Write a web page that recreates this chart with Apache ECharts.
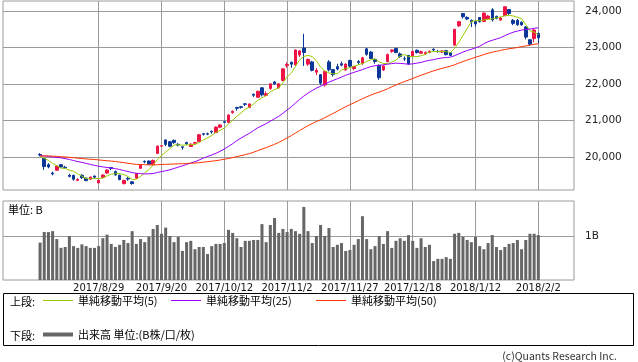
<!DOCTYPE html>
<html><head><meta charset="utf-8">
<script src="https://cdn.jsdelivr.net/npm/echarts@6/dist/echarts.min.js"></script>
<style>html,body{margin:0;padding:0;background:#fff}#c{width:638px;height:362px}</style>
</head><body><div id="c"></div><script>
const dates = ['2017/8/8','2017/8/9','2017/8/10','2017/8/14','2017/8/15','2017/8/16','2017/8/17','2017/8/18','2017/8/21','2017/8/22','2017/8/23','2017/8/24','2017/8/25','2017/8/28','2017/8/29','2017/8/30','2017/8/31',
'2017/9/1','2017/9/4','2017/9/5','2017/9/6','2017/9/7','2017/9/8','2017/9/11','2017/9/12','2017/9/13','2017/9/14','2017/9/15','2017/9/19','2017/9/20','2017/9/21','2017/9/22','2017/9/25','2017/9/26','2017/9/27','2017/9/28','2017/9/29',
'2017/10/2','2017/10/3','2017/10/4','2017/10/5','2017/10/6','2017/10/10','2017/10/11','2017/10/12','2017/10/13','2017/10/16','2017/10/17','2017/10/18','2017/10/19','2017/10/20','2017/10/23','2017/10/24','2017/10/25','2017/10/26','2017/10/27','2017/10/30','2017/10/31',
'2017/11/1','2017/11/2','2017/11/6','2017/11/7','2017/11/8','2017/11/9','2017/11/10','2017/11/13','2017/11/14','2017/11/15','2017/11/16','2017/11/17','2017/11/20','2017/11/21','2017/11/22','2017/11/24','2017/11/27','2017/11/28','2017/11/29','2017/11/30',
'2017/12/1','2017/12/4','2017/12/5','2017/12/6','2017/12/7','2017/12/8','2017/12/11','2017/12/12','2017/12/13','2017/12/14','2017/12/15','2017/12/18','2017/12/19','2017/12/20','2017/12/21','2017/12/22','2017/12/25','2017/12/26','2017/12/27','2017/12/28','2017/12/29',
'2018/1/4','2018/1/5','2018/1/9','2018/1/10','2018/1/11','2018/1/12','2018/1/15','2018/1/16','2018/1/17','2018/1/18','2018/1/19','2018/1/22','2018/1/23','2018/1/24','2018/1/25','2018/1/26','2018/1/29','2018/1/30','2018/1/31',
'2018/2/1','2018/2/2'];

const open = [20070,19960,19790,19560,19640,19790,19720,19500,19500,19360,
19500,19420,19390,19480,19290,19440,19560,19710,19600,19500,
19270,19410,19320,19420,19690,19880,19890,19800,20100,20300,
20470,20420,20460,20350,20280,20400,20290,20380,20420,20640,
20640,20710,20670,20820,20970,20950,21220,21360,21380,21460,
21360,21720,21640,21900,21690,21880,22060,21900,22100,22510,
22600,22530,22800,22990,22550,22610,22330,22260,21980,22610,
22400,22480,22560,22390,22650,22430,22620,22570,22970,22880,
22680,22520,22390,22620,22900,22980,22830,22700,22790,22770,
22930,22850,22840,22870,22960,22900,22880,22920,22860,23073,
23600,23940,23830,23750,23720,23830,23720,23800,24040,23860,
23760,23880,24050,23750,23750,23700,23570,23220,23250,23390];

const close = [20055,19738,19729,19537,19753,19729,19702,19470,19393,19384,
19434,19353,19452,19449,19362,19506,19646,19691,19508,19385,
19357,19396,19274,19545,19776,19865,19807,19909,20299,20310,
20347,20296,20397,20330,20267,20363,20356,20400,20614,20626,
20628,20690,20823,20881,20954,21155,21255,21336,21363,21448,
21457,21696,21805,21707,21739,22008,22011,22011,22420,22539,
22548,22937,22913,22868,22681,22380,22380,22028,22351,22396,
22261,22416,22523,22550,22495,22486,22597,22724,22819,22707,
22622,22177,22498,22811,22938,22866,22758,22694,22553,22901,
22868,22891,22866,22902,22939,22892,22911,22810,22790,23506,
23714,23849,23788,23710,23653,23714,23951,23868,23763,23808,
23816,24124,23940,23669,23631,23629,23291,23098,23486,23274];

const low = [20020,19650,19690,19500,19620,19700,19680,19440,19350,19360,
19400,19340,19370,19420,19280,19420,19540,19640,19490,19360,
19250,19350,19240,19410,19680,19830,19780,19790,20090,20270,
20300,20270,20360,20290,20200,20340,20280,20370,20410,20590,
20600,20640,20660,20790,20930,20930,21190,21270,21330,21400,
21340,21650,21620,21660,21680,21850,21980,21880,22080,22450,
22450,22500,22750,22500,22500,22350,22250,21970,21930,22350,
22210,22380,22490,22370,22460,22380,22540,22530,22780,22690,
22560,22119,22360,22600,22860,22850,22720,22640,22530,22760,
22840,22830,22800,22850,22900,22870,22860,22790,22770,23050,
23570,23800,23760,23570,23580,23690,23700,23760,23720,23780,
23740,23870,23900,23620,23600,23600,23230,23060,23150,23120];

const high = [20110,19980,19830,19600,19760,19810,19760,19540,19510,19420,
19530,19440,19460,19490,19380,19530,19660,19730,19630,19520,
19380,19450,19340,19560,19790,19910,19910,19930,20320,20330,
20480,20440,20480,20380,20290,20420,20370,20420,20630,20650,
20670,20720,20840,20900,21000,21170,21280,21380,21400,21480,
21470,21740,21820,21920,21800,22030,22090,22020,22430,22600,
22620,22950,22940,23382,22700,22640,22440,22280,22370,22660,
22420,22560,22620,22570,22670,22500,22660,22750,22995,22910,
22700,22540,22520,22840,22950,23000,22870,22760,22800,22920,
22950,22920,22900,22930,22980,22940,22930,22940,22880,23506,
23730,23952,23864,23775,23740,23833,23963,23900,24084,23880,
23850,24130,24060,23790,23790,23720,23590,23230,23520,23420];

const ma5 = [20035,19966,19907,19824,19763,19697,19690,19638,19609,19536,
19477,19407,19403,19414,19410,19424,19483,19531,19543,19547,
19517,19467,19384,19391,19470,19571,19653,19780,19931,20038,
20134,20232,20330,20336,20327,20331,20343,20343,20400,20472,
20525,20592,20676,20730,20795,20901,21014,21116,21213,21311,
21372,21460,21554,21623,21681,21791,21854,21895,22038,22198,
22306,22491,22671,22761,22789,22756,22644,22467,22364,22307,
22283,22290,22389,22429,22449,22494,22530,22570,22624,22667,
22694,22610,22565,22563,22609,22658,22774,22813,22762,22754,
22755,22781,22816,22886,22893,22898,22902,22891,22868,22982,
23146,23334,23529,23713,23743,23743,23763,23779,23790,23821,
23841,23876,23890,23871,23836,23799,23632,23464,23427,23356];

const ma25 = [20043,20032,20018,19999,19992,19978,19958,19933,19905,19876,
19853,19826,19799,19773,19748,19730,19714,19699,19681,19659,
19630,19603,19572,19556,19545,19537,19540,19547,19578,19600,
19625,19649,19686,19723,19758,19796,19836,19874,19920,19971,
20016,20057,20103,20158,20220,20292,20367,20449,20522,20589,
20652,20728,20804,20860,20917,20984,21052,21117,21201,21291,
21379,21482,21583,21673,21755,21825,21893,21941,22000,22057,
22102,22148,22195,22243,22285,22326,22362,22399,22443,22482,
22507,22513,22533,22548,22564,22577,22570,22561,22548,22557,
22577,22597,22631,22653,22674,22700,22720,22731,22741,22781,
22830,22880,22923,22958,22996,23040,23111,23166,23204,23239,
23277,23331,23381,23426,23455,23485,23501,23511,23534,23547];

const ma50 = [20029,20030,20032,20026,20017,20008,20003,19992,19982,19970,
19960,19949,19941,19933,19921,19910,19898,19889,19877,19862,
19847,19830,19813,19799,19794,19790,19786,19782,19789,19796,
19801,19804,19809,19814,19817,19824,19831,19836,19846,19860,
19873,19886,19901,19919,19940,19961,19985,20011,20039,20067,
20095,20134,20176,20219,20259,20304,20350,20401,20462,20525,
20587,20659,20728,20796,20863,20920,20975,21022,21079,21139,
21197,21257,21322,21382,21437,21489,21545,21601,21652,21700,
21745,21783,21825,21874,21928,21978,22026,22072,22111,22156,
22201,22245,22286,22326,22366,22401,22434,22463,22492,22533,
22578,22621,22661,22701,22739,22773,22812,22849,22876,22901,
22927,22951,22971,22987,23006,23031,23049,23071,23093,23111];

const volume = [0.85,1.09,1.09,1.11,0.93,0.73,0.75,1.00,0.77,0.73,
0.81,0.77,0.73,0.73,0.77,0.95,1.03,0.82,0.75,0.80,
0.91,0.84,1.11,0.82,0.93,0.86,0.98,1.16,1.25,1.05,
1.19,1.00,0.86,0.98,0.66,0.86,0.89,0.70,0.75,0.75,
0.59,0.77,0.82,0.82,0.84,1.14,1.07,0.95,0.75,0.89,
0.89,0.91,0.91,1.27,0.86,1.25,1.41,1.07,1.16,1.09,
1.16,1.11,1.05,1.66,1.11,0.84,1.00,1.25,1.00,1.18,
0.75,0.80,0.84,0.66,0.68,0.80,0.93,1.45,0.93,0.70,
0.77,1.00,0.82,1.11,0.73,0.89,0.95,0.89,1.02,0.89,
0.73,0.95,0.75,0.80,0.43,0.48,0.48,0.52,0.48,1.05,
1.07,0.98,0.91,0.86,0.98,0.77,0.70,0.84,1.02,0.75,
0.68,0.75,0.82,0.84,0.91,0.70,0.91,1.05,1.05,1.02];

const dateTickIndex = [14,29,44,59,74,89,104,119];
const dateTickLabels = ['2017/8/29','2017/9/20','2017/10/12','2017/11/2','2017/11/27','2017/12/18','2018/1/12','2018/2/2'];
const priceTicks = [20000,21000,22000,23000,24000];
const volumeTicks = [1];
const seriesNames = ['単純移動平均(5)','単純移動平均(25)','単純移動平均(50)','出来高 単位:(B株/口/枚)'];

const UP = '#ee1446', DOWN = '#0a3798', GRIDC = '#9a9a9a';
const FONT = 'DejaVu Sans';
const JFONT = '"Noto Sans CJK JP"';

const candleData = dates.map((d, i) => [i, open[i], close[i], low[i], high[i]]);
const pair = arr => arr.map((v, i) => [i, v]);

const xCommon = {
  type: 'value', min: -8.85, max: 127.52,
  axisLine: {show: false},
  axisTick: {show: false, customValues: dateTickIndex},
  splitLine: {show: true, lineStyle: {color: GRIDC, width: 1}}
};

const chart = echarts.init(document.getElementById('c'), null, {renderer: 'canvas'});
chart.setOption({
  animation: false,
  backgroundColor: '#fff',
  grid: [
    {left: 3, top: 1, width: 571, height: 189, show: true, borderColor: GRIDC, borderWidth: 1, backgroundColor: 'transparent'},
    {left: 3, top: 201, width: 571, height: 79, show: true, borderColor: GRIDC, borderWidth: 1, backgroundColor: 'transparent'}
  ],
  xAxis: [
    Object.assign({gridIndex: 0, axisLabel: {show: false}}, xCommon),
    Object.assign({gridIndex: 1, axisLabel: {show: true, customValues: dateTickIndex, margin: 3,
      fontFamily: FONT, fontSize: 10, color: '#111',
      formatter: v => dateTickLabels[dateTickIndex.indexOf(Math.round(v))] || ''}}, xCommon)
  ],
  yAxis: [
    {gridIndex: 0, type: 'value', position: 'right', min: 19096, max: 24282,
     axisLine: {show: false},
     axisTick: {show: true, length: 5, lineStyle: {color: GRIDC}, customValues: priceTicks},
     axisLabel: {customValues: priceTicks, margin: 11, fontFamily: FONT, fontSize: 10.5, color: '#222',
       formatter: v => v.toLocaleString('en-US')},
     splitLine: {show: true, lineStyle: {color: GRIDC, width: 1}}},
    {gridIndex: 1, type: 'value', position: 'right', min: 0, max: 1.795,
     axisLine: {show: false},
     axisTick: {show: true, length: 5, lineStyle: {color: GRIDC}, customValues: volumeTicks},
     axisLabel: {customValues: volumeTicks, margin: 11, fontFamily: FONT, fontSize: 10.5, color: '#222',
       formatter: v => v + 'B'},
     splitLine: {show: true, lineStyle: {color: GRIDC, width: 1}}}
  ],
  legend: [
    {data: [seriesNames[0]], left: 43, top: 295, padding: 0, icon: 'rect', itemWidth: 30, itemHeight: 1, selectedMode: false,
     textStyle: {fontFamily: JFONT, fontSize: 11, color: '#000'}},
    {data: [seriesNames[1]], left: 171, top: 295, padding: 0, icon: 'rect', itemWidth: 30, itemHeight: 1, selectedMode: false,
     textStyle: {fontFamily: JFONT, fontSize: 11, color: '#000'}},
    {data: [seriesNames[2]], left: 316, top: 295, padding: 0, icon: 'rect', itemWidth: 30, itemHeight: 1, selectedMode: false,
     textStyle: {fontFamily: JFONT, fontSize: 11, color: '#000'}},
    {data: [seriesNames[3]], left: 43, top: 329, padding: 0, icon: 'rect', itemWidth: 30, itemHeight: 4, selectedMode: false,
     textStyle: {fontFamily: JFONT, fontSize: 11, color: '#000'}}
  ],
  graphic: [
    {type: 'rect', shape: {x: 3.5, y: 293.5, width: 630, height: 52}, style: {fill: 'none', stroke: '#000', lineWidth: 1}, silent: true},
    {type: 'text', x: 10, y: 302, style: {text: '上段:', font: '11px ' + JFONT, fill: '#000', verticalAlign: 'middle'}, silent: true},
    {type: 'text', x: 10, y: 336, style: {text: '下段:', font: '11px ' + JFONT, fill: '#000', verticalAlign: 'middle'}, silent: true},
    {type: 'text', x: 8, y: 210, style: {text: '単位: B', font: '11px ' + JFONT, fill: '#000', verticalAlign: 'middle'}, silent: true},
    {type: 'text', x: 617, y: 356, style: {text: '(c)Quants Research Inc.', font: '10.5px ' + JFONT, fill: '#333', align: 'right', verticalAlign: 'middle'}, silent: true}
  ],
  series: [
    {type: 'candlestick', name: 'price', xAxisIndex: 0, yAxisIndex: 0, data: candleData, barWidth: 3, silent: true,
     itemStyle: {color: UP, color0: DOWN, borderColor: UP, borderColor0: DOWN, borderColorDoji: UP, borderWidth: 1}, z: 2},
    {type: 'line', name: seriesNames[0], xAxisIndex: 0, yAxisIndex: 0, data: pair(ma5), symbol: 'none', silent: true,
     color: '#99cc00', lineStyle: {color: '#99cc00', width: 1}, z: 3},
    {type: 'line', name: seriesNames[1], xAxisIndex: 0, yAxisIndex: 0, data: pair(ma25), symbol: 'none', silent: true,
     color: '#9900ff', lineStyle: {color: '#9900ff', width: 1}, z: 3},
    {type: 'line', name: seriesNames[2], xAxisIndex: 0, yAxisIndex: 0, data: pair(ma50), symbol: 'none', silent: true,
     color: '#ff3300', lineStyle: {color: '#ff3300', width: 1}, z: 3},
    {type: 'bar', name: seriesNames[3], xAxisIndex: 1, yAxisIndex: 1, data: pair(volume), barWidth: 3, silent: true,
     color: '#666666', itemStyle: {color: '#666666'}}
  ]
});
</script></body></html>
